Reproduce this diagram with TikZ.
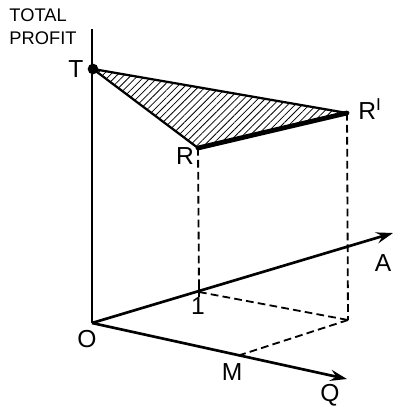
\documentclass[tikz,border=0pt]{standalone}
\usepackage{fontspec}
\setmainfont{Liberation Sans}
\usetikzlibrary{arrows.meta,patterns.meta}
\tikzset{
    axisline/.style={line width=1.9pt},
    axisarrow/.style={axisline, -{Stealth[length=4.2mm,width=2.8mm,inset=1.5mm]}},
    guide/.style={line width=1.3pt, dash pattern=on 5.5pt off 3pt},
    edge/.style={line width=1.6pt, line join=round},
    profitedge/.style={line width=3.4pt, line cap=round},
    hatch/.style={pattern={Lines[angle=45,distance=3.6pt,line width=0.55pt]}},
    ptlabel/.style={font=\fontsize{17.5}{19}\selectfont, inner sep=1pt},
    axistitle/.style={font=\fontsize{13}{16.5}\selectfont, align=left, inner sep=0pt},
}

\begin{document}
\begin{tikzpicture}[x=0.025cm, y=-0.025cm]
    \useasboundingbox (0,0) rectangle (397,407);
    % points of the figure
    \coordinate (O) at (92,323);
    \coordinate (top) at (92,29);
    \coordinate (T) at (93,69);
    \coordinate (R) at (198,148);
    \coordinate (Rp) at (347,113);
    \coordinate (one) at (199,292);
    \coordinate (corner) at (348,320);
    \coordinate (M) at (237,356);
    \coordinate (Aend) at (393,233);
    \coordinate (Qend) at (347,379);
    % shaded triangle
    \fill[hatch] (T) -- (R) -- (Rp) -- cycle;
    \draw[edge] (R) -- (T) -- (Rp);
    \draw[profitedge] (R) -- (Rp);
    % guides
    \draw[guide] (R) -- (one);
    \draw[guide] (Rp) -- (corner);
    \draw[guide] (one) -- (corner);
    \draw[guide] (corner) -- (M);
    % axes
    \draw[axisline] (top) -- (O);
    \draw[axisarrow] (O) -- (Aend);
    \draw[axisarrow] (O) -- (Qend);
    \draw[line width=1.1pt] ([yshift=-0.13cm]one) -- ([yshift=0.13cm]one);
    \fill (T) circle (3.8pt);
    % labels
    \node[axistitle] (title) at (43,27) {TOTAL\\PROFIT};
    \node[ptlabel] (Tlab) at (76,69) {T};
    \node[ptlabel] (Rlab) at (185,156) {R};
    \node[ptlabel] (Rplab) at (370,109) {R\textsuperscript{I}};
    \node[ptlabel] (Alab) at (383,263) {A};
    \node[ptlabel] (Olab) at (87,339) {O};
    \node[ptlabel] (onelab) at (198,306) {1};
    \node[ptlabel] (Mlab) at (232,372) {M};
    \node[ptlabel] (Qlab) at (330,395) {Q};
\end{tikzpicture}
\end{document}
